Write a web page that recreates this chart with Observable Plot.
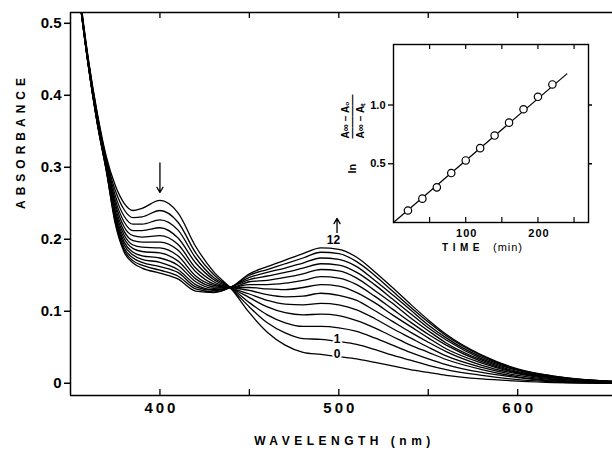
<!DOCTYPE html>
<html><head><meta charset="utf-8">
<script src="https://cdn.jsdelivr.net/npm/d3@7"></script>
<script src="https://cdn.jsdelivr.net/npm/@observablehq/plot@0.6"></script>
<style>
html,body{margin:0;padding:0;background:#fff;}
#chart{position:relative;width:612px;height:452px;overflow:hidden;}
#inset{position:absolute;left:330px;top:30px;}
svg{font-family:"Liberation Sans",Arial,sans-serif;}
</style></head><body>
<div id="chart"><div id="main"></div><div id="inset"></div></div>
<script>
// wavelength grid (nm)
const wavelength = [350,355,360,365,370,375,380,385,390,400,410,420,430,440,450,460,470,480,490,500,510,520,530,540,550,560,580,600,620,650,660];
// absorbance spectra 0..12
const A0  = [.660,.545,.450,.375,.315,.275,.250,.240,.243,.254,.237,.190,.155,.131,.098,.071,.053,.043,.040,.037,.034,.029,.024,.019,.015,.011,.006,.003,.001,.000,.000];
const A1  = [.657,.544,.449,.373,.312,.268,.241,.230,.231,.240,.224,.181,.151,.131,.106,.084,.070,.062,.061,.058,.054,.047,.039,.032,.025,.019,.011,.005,.002,.000,.000];
const A2  = [.655,.542,.447,.371,.310,.261,.232,.221,.221,.227,.213,.174,.147,.132,.112,.095,.084,.079,.079,.077,.072,.063,.053,.043,.034,.026,.015,.008,.003,.001,.000];
const A3  = [.652,.541,.446,.369,.307,.255,.224,.212,.212,.216,.202,.167,.144,.132,.119,.106,.098,.095,.096,.094,.087,.077,.065,.053,.043,.033,.019,.009,.004,.001,.001];
const A4  = [.650,.540,.445,.368,.305,.250,.217,.205,.203,.205,.193,.160,.141,.132,.124,.115,.110,.109,.111,.109,.102,.090,.076,.063,.050,.038,.022,.011,.005,.001,.001];
const A5  = [.649,.539,.444,.366,.304,.245,.211,.198,.196,.196,.185,.155,.138,.133,.129,.123,.120,.121,.125,.122,.115,.101,.086,.071,.057,.044,.025,.013,.006,.002,.001];
const A6  = [.647,.538,.443,.365,.302,.240,.206,.192,.189,.188,.177,.149,.136,.133,.133,.131,.130,.133,.137,.135,.126,.112,.095,.079,.063,.048,.028,.014,.007,.002,.001];
const A7  = [.645,.538,.443,.364,.300,.236,.201,.187,.183,.181,.170,.145,.134,.133,.137,.137,.139,.143,.148,.146,.137,.121,.103,.085,.068,.053,.030,.015,.008,.002,.001];
const A8  = [.644,.537,.442,.363,.299,.233,.196,.182,.177,.174,.164,.141,.132,.133,.141,.143,.147,.152,.158,.156,.146,.129,.111,.091,.073,.056,.032,.016,.008,.002,.001];
const A9  = [.643,.536,.441,.362,.298,.230,.192,.178,.172,.168,.158,.137,.130,.134,.144,.149,.154,.160,.166,.164,.154,.137,.117,.097,.077,.060,.034,.018,.009,.003,.002];
const A10 = [.642,.536,.441,.361,.297,.227,.188,.174,.168,.162,.154,.134,.129,.134,.147,.154,.160,.167,.174,.172,.162,.143,.123,.102,.081,.063,.036,.019,.009,.003,.002];
const A11 = [.641,.535,.440,.361,.296,.224,.185,.170,.164,.157,.149,.131,.127,.134,.150,.158,.166,.174,.182,.180,.169,.150,.128,.106,.085,.066,.038,.019,.010,.003,.002];
const A12 = [.640,.535,.440,.360,.295,.222,.182,.167,.160,.153,.145,.128,.126,.134,.152,.162,.171,.180,.188,.186,.175,.155,.133,.110,.088,.068,.039,.020,.010,.003,.002];
const spectra = [A0,A1,A2,A3,A4,A5,A6,A7,A8,A9,A10,A11,A12];

const xTicks = [400,450,500,550,600];
const xTickLabels = [400,500,600];
const yTicks = [0,0.1,0.2,0.3,0.4,0.5];

const arrowX = [400, 499];
const arrowFrom = [0.306, 0.204];
const arrowTo = [0.265, 0.229];

const curveLabels = ["12","1","0"];
const curveLabelX = [497, 499, 499];
const curveLabelY = [0.199, 0.061, 0.040];

// inset: first-order plot
const timeMin = [20,40,60,80,100,120,140,160,180,200,220];
const lnRatio = [0.102,0.203,0.299,0.421,0.528,0.633,0.740,0.850,0.964,1.070,1.175];
const fitTime = [0, 240];
const fitLn = [0, 1.265];
const insetXTicks = [50,100,150,200,250];
const insetXLabels = [100,200];
const insetYTicks = [0.5,1.0];

const FONT = '"Liberation Sans", Arial, sans-serif';
const rows = spectra.flatMap((s,k) => s.map((a,i) => ({w: wavelength[i], a, k})));

const main = Plot.plot({
  width: 612, height: 452,
  marginLeft: 70, marginRight: 0, marginTop: 12, marginBottom: 57,
  style: {fontFamily: FONT, background: "transparent", color: "#000"},
  x: {domain: [350, 653]},
  y: {domain: [-0.017, 0.515]},
  marks: [
    Plot.ruleY([0.515], {strokeWidth: 1.3}),
    Plot.ruleY([-0.017], {strokeWidth: 1.5}),
    Plot.ruleX([350], {strokeWidth: 1.5}),
    Plot.tickX(xTicks, {x: d => d, insetTop: 377, strokeWidth: 1.3}),
    Plot.tickX(xTicks, {x: d => d, insetBottom: 377, strokeWidth: 1.3}),
    Plot.axisY({ticks: yTicks, tickSize: 6, tickPadding: 3, strokeWidth: 1.5,
      tickFormat: d => d === 0 ? "0" : d.toFixed(1), fontSize: 15, fontWeight: "bold", label: null}),
    Plot.axisX({ticks: xTickLabels, tickSize: 0, tickPadding: 7, fontSize: 15, fontWeight: "bold", label: null, dx: 1.5}),
    Plot.line(rows, {x: "w", y: "a", z: "k", curve: "monotone-x", clip: true, stroke: "#000", strokeWidth: 1.3}),
    Plot.arrow(arrowX.map((x, i) => ({x, y1: arrowFrom[i], y2: arrowTo[i]})),
      {x1: "x", x2: "x", y1: "y1", y2: "y2", headLength: 7, strokeWidth: 1.3}),
    Plot.text(curveLabels.map((t, i) => ({t, x: curveLabelX[i], y: curveLabelY[i]})),
      {x: "x", y: "y", text: "t", fontSize: 12, fontWeight: "bold", fill: "#000", stroke: "#fff", strokeWidth: 4}),
    Plot.text(["ABSORBANCE"], {frameAnchor: "left", rotate: -90, dx: -49, dy: 5, fontSize: 12, fontWeight: "bold"}),
    Plot.text(["WAVELENGTH (nm)"], {frameAnchor: "bottom", dy: 49, dx: 3, fontSize: 12, fontWeight: "bold"})
  ]
});
document.getElementById("main").appendChild(main);

const inset = Plot.plot({
  width: 268, height: 237,
  marginLeft: 63, marginRight: 10, marginTop: 14, marginBottom: 45,
  style: {fontFamily: FONT, background: "transparent", color: "#000"},
  x: {domain: [0, 270]},
  y: {domain: [0, 1.515]},
  marks: [
    Plot.frame({strokeWidth: 1.4}),
    Plot.tickX(insetXTicks, {x: d => d, insetTop: 173, strokeWidth: 1.2}),
    Plot.tickX(insetXTicks, {x: d => d, insetBottom: 173, strokeWidth: 1.2}),
    Plot.axisY({ticks: insetYTicks, tickSize: 5, tickPadding: 3, strokeWidth: 1.3,
      tickFormat: d => d.toFixed(1), fontSize: 11, fontWeight: "bold", label: null}),
    Plot.axisY({anchor: "right", ticks: insetYTicks, tickSize: 3, strokeWidth: 1.5, tickFormat: () => "", label: null}),
    Plot.axisX({ticks: insetXLabels, tickSize: 0, tickPadding: 7, fontSize: 11, fontWeight: "bold", label: null, dx: 1}),
    Plot.line(fitTime.map((t, i) => ({t, v: fitLn[i]})), {x: "t", y: "v", strokeWidth: 1.2}),
    Plot.dot(timeMin.map((t, i) => ({t, v: lnRatio[i]})), {x: "t", y: "v", r: 3.7, fill: "#fff", stroke: "#000", strokeWidth: 1.2}),
    Plot.text(["TIME"], {frameAnchor: "bottom", dx: -28, dy: 28, fontSize: 10, fontWeight: "bold"}),
    Plot.text(["(min)"], {frameAnchor: "bottom", dx: 17, dy: 28, fontSize: 11}),
    Plot.text(["ln"], {frameAnchor: "left", rotate: -90, dx: -41, dy: 40, fontSize: 11, fontWeight: "bold"}),
    Plot.text(["A\u221E \u2212 A\u2080"], {frameAnchor: "left", rotate: -90, dx: -48, dy: 5, fontSize: 10, fontWeight: "bold"}),
    Plot.text(["\u2014\u2014\u2014\u2014"], {frameAnchor: "left", rotate: -90, dx: -41, dy: 5, fontSize: 11, fontWeight: "bold"}),
    Plot.text(["A\u221E \u2212 A\u209C"], {frameAnchor: "left", rotate: -90, dx: -33, dy: 5, fontSize: 10, fontWeight: "bold"})
  ]
});
document.getElementById("inset").appendChild(inset);

// letter spacing for the wide, spaced texts
const spacing = {"ABSORBANCE": "5px", "WAVELENGTH (nm)": "4.5px", "TIME": "4.5px", "(min)": "1px",
  "400": "3px", "500": "3px", "600": "3px", "100": "1px", "200": "1px"};
d3.selectAll("#chart svg text").each(function () {
  const s = spacing[this.textContent];
  if (s) this.style.letterSpacing = s;
});
</script>
</body></html>
